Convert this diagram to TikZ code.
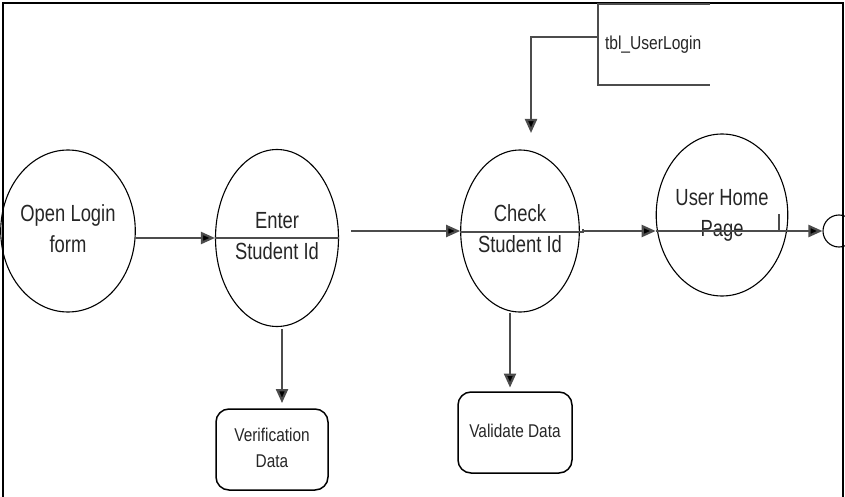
\documentclass[tikz,border=0pt]{standalone}
\usepackage{graphicx}
\usepackage{fontspec}
\setmainfont{Liberation Sans}
\usetikzlibrary{shapes.geometric,arrows.meta,calc}
\newcommand{\tx}[1]{\scalebox{1}[1.27]{\begin{tabular}{@{}c@{}}#1\end{tabular}}}
\newcommand{\stx}[1]{\scalebox{1}[1.2]{\begin{tabular}{@{}c@{}}#1\end{tabular}}}
\begin{document}
\begin{tikzpicture}[x=1pt,y=1pt,
  proc/.style={ellipse,draw=black,line width=1.1pt,inner sep=0pt,text=black!85,
     font=\fontsize{18.4}{24.5}\selectfont},
  databox/.style={rectangle,rounded corners=13pt,draw=black,line width=1.5pt,inner sep=0pt,
     text=black!85,font=\fontsize{15.4}{21.5}\selectfont},
  conn/.style={draw=black!70,line width=2.2pt},
  arr/.style={conn,-{Triangle[length=14pt,width=12pt,fill=black]}},
  frame/.style={draw=black,line width=2pt}]
\useasboundingbox (0,0) rectangle (845,-497);
% outer frame
\draw[frame] (3,-497) -- (3,-3) -- (843,-3) -- (843,-497);

% processes
\node[proc,minimum width=113pt,minimum height=162pt] (open) at (68,-231) {\tx{Open Login\\form}};
\node[proc,minimum width=123pt,minimum height=177pt] (enter) at (277,-238) {\tx{Enter\\Student Id}};
\node[proc,minimum width=112pt,minimum height=162pt] (check) at (520,-231) {\tx{Check\\Student Id}};
\node[proc,minimum width=112pt,minimum height=162pt] (home) at (722,-215) {\tx{User Home\\Page}};
\node[circle,draw=black,line width=1.1pt,minimum size=32pt,inner sep=0pt] (endc) at (839,-231) {};

% data boxes
\node[databox,minimum width=112pt,minimum height=81pt] (verif) at (272,-449.5) {\stx{Verification\\Data}};
\node[databox,minimum width=114pt,minimum height=81pt] (valid) at (515,-432.5) {\stx{Validate Data}};

% data store
\node[rectangle,minimum width=112pt,minimum height=81pt,text width=98pt,align=left,
      inner xsep=7pt,inner ysep=0pt,text=black!85,font=\fontsize{15.6}{20}\selectfont]
      (store) at (654,-44.5) {\scalebox{1}[1.2]{tbl\_UserLogin}};
\draw[conn] (store.north east) -- (store.north west) -- (store.south west) -- (store.south east);

% free ends
\coordinate (c2s) at (351,-231);
\coordinate (chkin) at (531,-133);
\coordinate (ctick) at (583,-232);
\coordinate (htick) at (779,-231);

% connectors
\draw[arr] (open.east |- enter.west) -- (enter.west);
\draw[conn] (enter.west) -- (enter.east);
\draw[arr] (c2s) -- (check.west |- c2s);
\draw[conn] (check.west |- ctick) -- (ctick) -- ++(0,3);
\draw[arr] (ctick) ++(0,1) -- (home.west |- c2s);
\draw[conn] (home.west |- c2s) -- (htick) -- ++(0,17);
\draw[arr] (htick) -- (endc.west);
\draw[arr] ($(store.west)+(0,7.5)$) -| (chkin);
\draw[arr] ($(enter.south)+(5,-2)$) -- ++(0,-74);
\draw[arr] ($(check.south)+(-10,0)$) -- ++(0,-75);
\end{tikzpicture}
\end{document}
